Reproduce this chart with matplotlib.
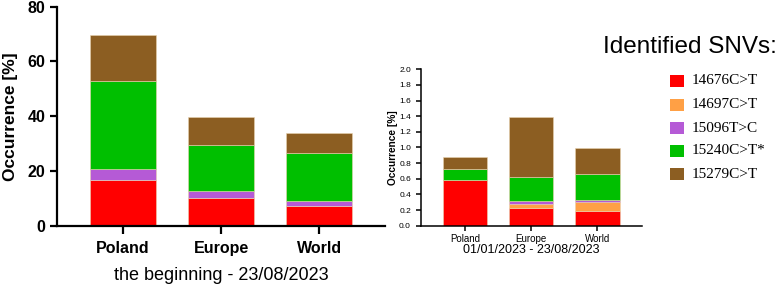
import matplotlib
matplotlib.use("Agg")
import matplotlib.pyplot as plt
from matplotlib.patches import Rectangle
import numpy as np

plt.rcParams['font.family'] = ['Liberation Sans', 'DejaVu Sans']

regions = ["Poland", "Europe", "World"]
snvs = ["14676C>T", "14697C>T", "15096T>C", "15240C>T*", "15279C>T"]
colors = ["#FF0000", "#FFA045", "#B55AD6", "#00BF00", "#8C5E22"]

# left panel: the beginning - 23/08/2023 (occurrence %, per SNV)
left_vals = {
    "14676C>T": [16.8, 10.3, 7.4],
    "14697C>T": [0.0, 0.0, 0.0],
    "15096T>C": [3.8, 2.6, 1.8],
    "15240C>T*": [32.1, 16.5, 17.3],
    "15279C>T": [17.0, 10.2, 7.5],
}
# right panel: 01/01/2023 - 23/08/2023
right_vals = {
    "14676C>T": [0.58, 0.23, 0.19],
    "14697C>T": [0.0, 0.05, 0.11],
    "15096T>C": [0.0, 0.035, 0.03],
    "15240C>T*": [0.14, 0.305, 0.33],
    "15279C>T": [0.16, 0.77, 0.33],
}

fig = plt.figure(figsize=(7.77, 2.85), dpi=100)

def stacked(ax, vals):
    x = np.arange(len(regions))
    bottom = np.zeros(len(regions))
    for s, c in zip(snvs, colors):
        v = np.array(vals[s])
        ax.bar(x, v, bottom=bottom, width=0.67, color=c, edgecolor="#E8D2B0", linewidth=0.4)
        bottom += v
    ax.set_xticks(x)
    ax.set_xticklabels(regions)
    ax.set_xlim(-0.67, 2.67)
    for sp in ["top", "right"]:
        ax.spines[sp].set_visible(False)

axL = fig.add_axes([0.0734, 0.207, 0.4221, 0.770])
stacked(axL, left_vals)
axL.set_ylim(0, 80)
axL.set_yticks([0, 20, 40, 60, 80])
for sp in ["left", "bottom"]:
    axL.spines[sp].set_linewidth(1.6)
axL.tick_params(width=1.6, length=5, labelsize=11.5)
axL.tick_params(axis="x", length=6, pad=4.5)
for t in axL.get_xticklabels() + axL.get_yticklabels():
    t.set_fontweight("bold")
axL.set_ylabel("Occurrence [%]", fontsize=12.5, fontweight="bold", labelpad=7)
axL.set_xlabel("the beginning - 23/08/2023", fontsize=13, labelpad=8)

axR = fig.add_axes([0.5414, 0.208, 0.2845, 0.549])
stacked(axR, right_vals)
axR.set_ylim(0, 2.0)
axR.set_yticks(np.arange(0, 2.01, 0.2))
axR.set_yticklabels([f"{v:.1f}" for v in np.arange(0, 2.01, 0.2)])
for sp in ["left", "bottom"]:
    axR.spines[sp].set_linewidth(1.1)
axR.tick_params(width=1.1, length=3.5, labelsize=6)
axR.tick_params(axis="x", labelsize=7, pad=2.5)
axR.set_ylabel("Occurrence [%]", fontsize=7.3, fontweight="bold", labelpad=1)
axR.set_xlabel("01/01/2023 - 23/08/2023", fontsize=9, labelpad=0)

W, H = 777, 285
fig.text(603 / W, 1 - 47 / H, "Identified SNVs:", fontsize=17.5, va="center", ha="left")
ys = [81, 104.5, 128, 151, 174]
for s, c, y in zip(snvs, colors, ys):
    fig.add_artist(Rectangle((670 / W, 1 - (y + 6) / H), 14 / W, 12 / H,
                             transform=fig.transFigure, facecolor=c, edgecolor="none"))
    fig.text(692 / W, 1 - y / H, s, fontsize=11, va="center", ha="left",
             family=["Liberation Serif", "DejaVu Serif"])

fig.savefig("out.png", dpi=100)
